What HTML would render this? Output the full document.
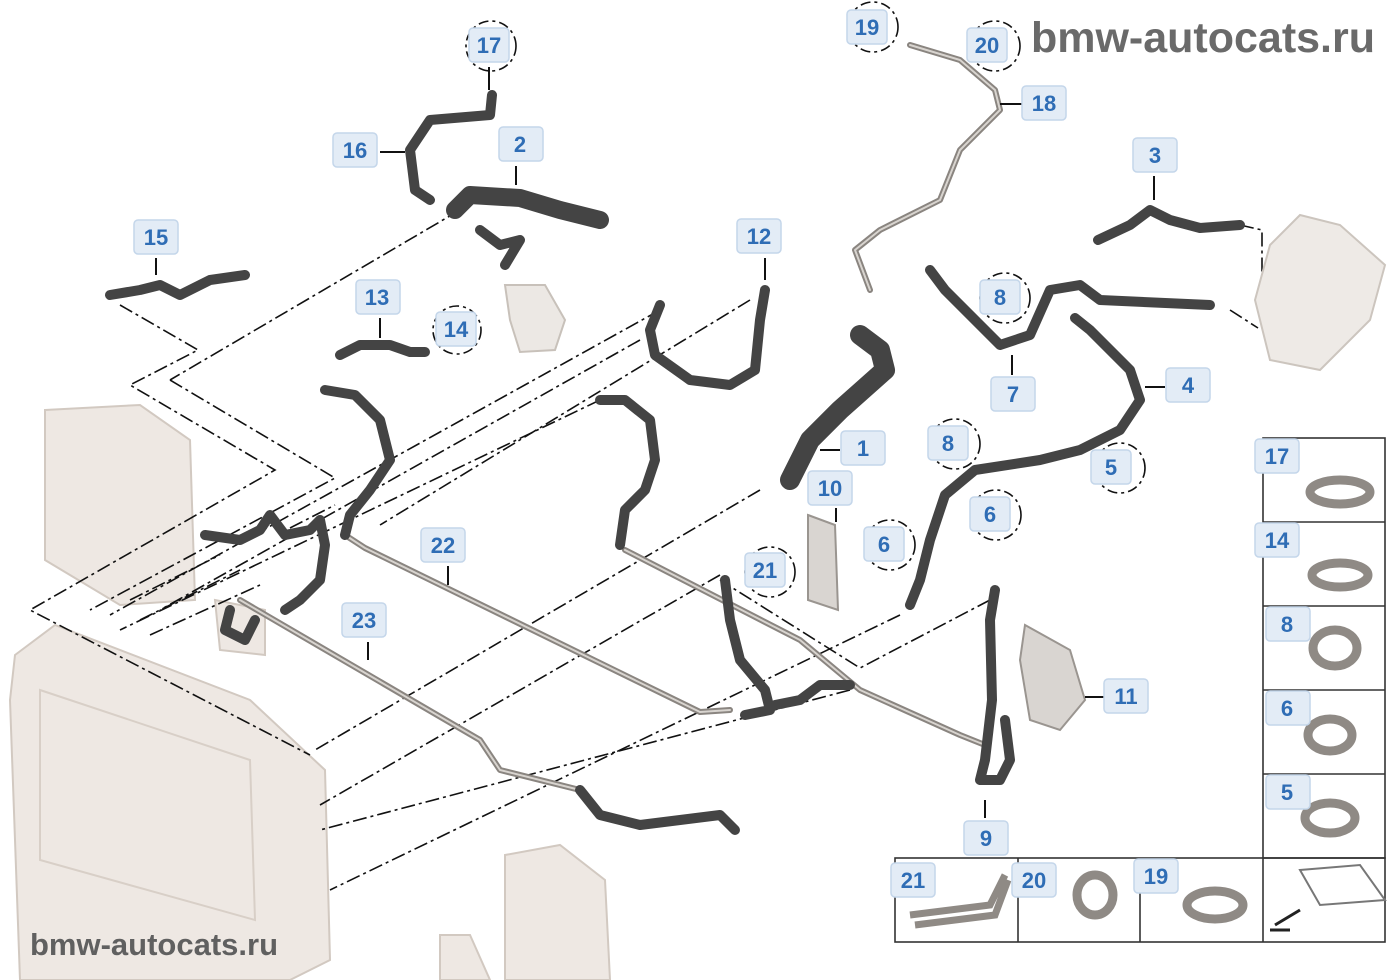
<!DOCTYPE html>
<html><head><meta charset="utf-8"><style>
html,body{margin:0;padding:0;background:#fff;}
svg{display:block;}
.lb rect{fill:#e3ecf6;stroke:#c4d6ea;stroke-width:1.5;}
.lb text{fill:#2f6db5;font:bold 22px "Liberation Sans",sans-serif;text-anchor:middle;}
.dd{fill:none;stroke:#111;stroke-width:1.6;stroke-dasharray:14 4 3 4;}
.h{fill:none;stroke:#444;stroke-width:10;stroke-linecap:round;stroke-linejoin:round;}
.p{fill:none;stroke:#8a8580;stroke-width:6;stroke-linecap:round;stroke-linejoin:round;}
.pi{fill:none;stroke:#d8d4cf;stroke-width:2;stroke-linecap:round;stroke-linejoin:round;}
.ld{stroke:#111;stroke-width:2;}
.cir{fill:none;stroke:#111;stroke-width:1.6;stroke-dasharray:10 4 3 4;}
.rad{fill:#eee8e3;stroke:#d2c9c1;stroke-width:2;}
.pan{fill:none;stroke:#333;stroke-width:1.6;}
.clip{fill:none;stroke:#8f8a85;stroke-width:9;}
</style></head><body>
<svg width="1400" height="980" viewBox="0 0 1400 980" xmlns="http://www.w3.org/2000/svg">
<polygon class="rad" points="45,410 140,405 190,440 195,600 120,605 45,560"/>
<polygon class="rad" points="15,655 55,625 250,700 325,770 330,960 290,980 20,980 10,700"/>
<polygon fill="none" stroke="#d8cfc7" stroke-width="2" points="40,690 250,760 255,920 40,860"/>
<polygon class="rad" points="505,855 560,845 605,880 610,980 505,980"/>
<polygon class="rad" points="215,600 265,610 265,655 220,650"/>
<polygon class="rad" points="440,935 470,935 490,980 440,980"/>
<path class="dd" d="M120,305 L198,350 L130,385 L275,470 L30,610 L310,755"/>
<path class="dd" d="M170,380 L335,478 L90,610"/>
<path class="dd" d="M460,210 L170,380"/>
<path class="dd" d="M660,310 L110,615"/>
<path class="dd" d="M750,300 L380,525"/>
<path class="dd" d="M600,400 L120,630"/>
<path class="dd" d="M760,490 L315,750"/>
<path class="dd" d="M720,575 L320,805"/>
<path class="dd" d="M850,690 L320,830"/>
<path class="dd" d="M900,615 L330,890"/>
<path class="dd" d="M990,600 L860,668 L720,580"/>
<path class="dd" d="M640,340 L160,610"/>
<path class="dd" d="M1240,225 L1262,230 L1262,275 L1290,272"/>
<path class="dd" d="M1230,310 L1258,328"/>
<path class="dd" d="M290,528 L335,505"/>
<path class="dd" d="M130,600 L220,555"/>
<path class="dd" d="M140,620 L240,570"/>
<path class="dd" d="M150,635 L260,585"/>
<path class="p" d="M345,535 L365,548 L700,712 L730,710"/>
<path class="pi" d="M345,535 L365,548 L700,712 L730,710"/>
<path class="p" d="M240,600 L480,740 L500,770 L580,790"/>
<path class="pi" d="M240,600 L480,740 L500,770 L580,790"/>
<path class="p" d="M625,550 L800,640 L860,690 L960,735 L985,745"/>
<path class="pi" d="M625,550 L800,640 L860,690 L960,735 L985,745"/>
<path class="p" d="M910,45 L960,60 L995,90 L1000,110 L960,150 L940,200 L880,230 L855,250 L870,290"/>
<path class="pi" d="M910,45 L960,60 L995,90 L1000,110 L960,150 L940,200 L880,230 L855,250 L870,290"/>
<g>
<path class="h" d="M492,95 L490,115 L430,120 L410,150 L415,190 L430,200"/>
<path class="h" d="M455,210 L470,195 L520,198 L560,210 L600,220" style="stroke-width:18"/>
<path class="h" d="M480,230 L500,245 L520,240 L505,265"/>
<path class="h" d="M110,295 L140,290 L160,285 L180,295 L210,280 L245,275"/>
<path class="h" d="M340,355 L360,345 L390,345 L410,352 L425,352"/>
<path class="h" d="M325,390 L355,395 L380,420 L390,460 L370,490 L350,515 L345,535"/>
<path class="h" d="M660,305 L650,330 L655,355 L690,380 L730,385 L755,370 L760,320 L765,290"/>
<path class="h" d="M600,400 L625,400 L650,420 L655,460 L645,490 L625,510 L620,545"/>
<path class="h" d="M860,335 L880,350 L885,370 L840,410 L810,440 L800,460 L790,480" style="stroke-width:20"/>
<path class="h" d="M930,270 L945,290 L970,315 L1000,345 L1030,335 L1050,290 L1080,285 L1100,300 L1210,305"/>
<path class="h" d="M1075,318 L1090,330 L1130,370 L1140,400 L1120,430 L1080,450 L1040,460 L975,470 L945,495 L930,540 L920,580 L910,605"/>
<path class="h" d="M1098,240 L1130,225 L1150,210 L1170,220 L1200,228 L1240,225"/>
<path class="h" d="M205,535 L240,540 L260,530 L270,515 L285,535 L310,530 L320,520"/>
<path class="h" d="M320,520 L325,545 L320,580 L300,600 L285,610"/>
<path class="h" d="M255,620 L245,640 L225,630 L230,610"/>
<path class="h" d="M725,580 L730,620 L740,660 L765,690 L770,710 L745,715"/>
<path class="h" d="M775,705 L800,700 L820,685 L850,685"/>
<path class="h" d="M995,590 L990,620 L992,700 L985,760 L980,780 L1000,780 L1010,760 L1005,720"/>
<path class="h" d="M580,790 L600,815 L640,825 L680,820 L720,815 L735,830"/>
</g>
<polygon points="505,285 545,285 565,320 555,350 520,352 510,320" fill="#ece8e4" stroke="#c8c1ba" stroke-width="2"/>
<polygon points="808,515 835,525 838,610 808,600" fill="#d9d5d1" stroke="#9a9590" stroke-width="2"/>
<polygon points="1025,625 1070,650 1085,700 1060,730 1030,720 1020,660" fill="#d9d5d1" stroke="#9a9590" stroke-width="2"/>
<path d="M1270,245 L1300,215 L1340,225 L1385,265 L1370,320 L1320,370 L1270,360 L1255,300 Z" fill="#eeeae6" stroke="#ccc5be" stroke-width="2"/>
<line class="ld" x1="489" y1="67" x2="489" y2="90"/>
<line class="ld" x1="380" y1="152" x2="405" y2="152"/>
<line class="ld" x1="516" y1="166" x2="516" y2="185"/>
<line class="ld" x1="156" y1="258" x2="156" y2="275"/>
<line class="ld" x1="380" y1="318" x2="380" y2="338"/>
<line class="ld" x1="765" y1="258" x2="765" y2="280"/>
<line class="ld" x1="1000" y1="104" x2="1022" y2="104"/>
<line class="ld" x1="1154" y1="176" x2="1154" y2="200"/>
<line class="ld" x1="1012" y1="355" x2="1012" y2="375"/>
<line class="ld" x1="1145" y1="387" x2="1165" y2="387"/>
<line class="ld" x1="820" y1="450" x2="840" y2="450"/>
<line class="ld" x1="836" y1="508" x2="836" y2="522"/>
<line class="ld" x1="448" y1="566" x2="448" y2="585"/>
<line class="ld" x1="368" y1="642" x2="368" y2="660"/>
<line class="ld" x1="1085" y1="697" x2="1104" y2="697"/>
<line class="ld" x1="985" y1="800" x2="985" y2="818"/>
<circle class="cir" cx="491" cy="46" r="25"/>
<circle class="cir" cx="457" cy="330" r="24"/>
<circle class="cir" cx="873" cy="27" r="25"/>
<circle class="cir" cx="995" cy="46" r="25"/>
<circle class="cir" cx="1005" cy="298" r="25"/>
<circle class="cir" cx="955" cy="444" r="25"/>
<circle class="cir" cx="1120" cy="468" r="25"/>
<circle class="cir" cx="996" cy="515" r="25"/>
<circle class="cir" cx="890" cy="545" r="25"/>
<circle class="cir" cx="770" cy="572" r="25"/>
<rect class="pan" x="1263" y="438" width="122" height="420"/>
<line class="pan" x1="1263" y1="522" x2="1385" y2="522"/>
<line class="pan" x1="1263" y1="606" x2="1385" y2="606"/>
<line class="pan" x1="1263" y1="690" x2="1385" y2="690"/>
<line class="pan" x1="1263" y1="774" x2="1385" y2="774"/>
<rect class="pan" x="895" y="858" width="490" height="84"/>
<line class="pan" x1="1018" y1="858" x2="1018" y2="942"/>
<line class="pan" x1="1140" y1="858" x2="1140" y2="942"/>
<line class="pan" x1="1263" y1="858" x2="1263" y2="942"/>
<ellipse class="clip" cx="1340" cy="492" rx="30" ry="12"/>
<ellipse class="clip" cx="1340" cy="575" rx="28" ry="12"/>
<ellipse class="clip" cx="1335" cy="648" rx="22" ry="18"/>
<ellipse class="clip" cx="1330" cy="735" rx="22" ry="16"/>
<ellipse class="clip" cx="1330" cy="818" rx="25" ry="15"/>
<path d="M910,915 L990,905 L1005,875 M915,925 L995,915 L1008,880" fill="none" stroke="#8f8a85" stroke-width="7"/>
<ellipse class="clip" cx="1095" cy="895" rx="18" ry="20"/>
<ellipse class="clip" cx="1215" cy="905" rx="28" ry="14"/>
<path d="M1300,870 L1360,865 L1385,900 L1320,905 Z" fill="none" stroke="#777" stroke-width="2"/>
<path d="M1300,910 L1275,925 M1270,930 L1290,930" stroke="#222" stroke-width="3"/>
<g class="lb">
<rect x="469" y="28" width="40" height="34" rx="4"/><text x="489" y="53">17</text>
<rect x="333" y="133" width="44" height="34" rx="4"/><text x="355" y="158">16</text>
<rect x="499" y="127" width="44" height="34" rx="4"/><text x="520" y="152">2</text>
<rect x="134" y="220" width="44" height="34" rx="4"/><text x="156" y="245">15</text>
<rect x="356" y="280" width="44" height="34" rx="4"/><text x="377" y="305">13</text>
<rect x="436" y="312" width="40" height="34" rx="4"/><text x="456" y="337">14</text>
<rect x="737" y="219" width="44" height="34" rx="4"/><text x="759" y="244">12</text>
<rect x="847" y="10" width="40" height="34" rx="4"/><text x="867" y="35">19</text>
<rect x="967" y="28" width="40" height="34" rx="4"/><text x="987" y="53">20</text>
<rect x="1022" y="86" width="44" height="34" rx="4"/><text x="1044" y="111">18</text>
<rect x="1133" y="138" width="44" height="34" rx="4"/><text x="1155" y="163">3</text>
<rect x="980" y="280" width="40" height="34" rx="4"/><text x="1000" y="305">8</text>
<rect x="991" y="377" width="44" height="34" rx="4"/><text x="1013" y="402">7</text>
<rect x="1166" y="368" width="44" height="34" rx="4"/><text x="1188" y="393">4</text>
<rect x="841" y="431" width="44" height="34" rx="4"/><text x="863" y="456">1</text>
<rect x="928" y="426" width="40" height="34" rx="4"/><text x="948" y="451">8</text>
<rect x="1091" y="450" width="40" height="34" rx="4"/><text x="1111" y="475">5</text>
<rect x="808" y="471" width="44" height="34" rx="4"/><text x="830" y="496">10</text>
<rect x="970" y="497" width="40" height="34" rx="4"/><text x="990" y="522">6</text>
<rect x="864" y="527" width="40" height="34" rx="4"/><text x="884" y="552">6</text>
<rect x="421" y="528" width="44" height="34" rx="4"/><text x="443" y="553">22</text>
<rect x="745" y="553" width="40" height="34" rx="4"/><text x="765" y="578">21</text>
<rect x="342" y="603" width="44" height="34" rx="4"/><text x="364" y="628">23</text>
<rect x="1104" y="679" width="44" height="34" rx="4"/><text x="1126" y="704">11</text>
<rect x="964" y="821" width="44" height="34" rx="4"/><text x="986" y="846">9</text>
<rect x="1255" y="439" width="44" height="34" rx="4"/><text x="1277" y="464">17</text>
<rect x="1255" y="523" width="44" height="34" rx="4"/><text x="1277" y="548">14</text>
<rect x="1266" y="607" width="44" height="34" rx="4"/><text x="1287" y="632">8</text>
<rect x="1266" y="691" width="44" height="34" rx="4"/><text x="1287" y="716">6</text>
<rect x="1266" y="775" width="44" height="34" rx="4"/><text x="1287" y="800">5</text>
<rect x="891" y="863" width="44" height="34" rx="4"/><text x="913" y="888">21</text>
<rect x="1012" y="863" width="44" height="34" rx="4"/><text x="1034" y="888">20</text>
<rect x="1134" y="859" width="44" height="34" rx="4"/><text x="1156" y="884">19</text>
</g>
<text x="1375" y="52" text-anchor="end" font-family="Liberation Sans,sans-serif" font-weight="bold" font-size="43" fill="#6a6a6a">bmw-autocats.ru</text>
<text x="30" y="955" font-family="Liberation Sans,sans-serif" font-weight="bold" font-size="31" fill="#606060">bmw-autocats.ru</text>
</svg>
</body></html>
